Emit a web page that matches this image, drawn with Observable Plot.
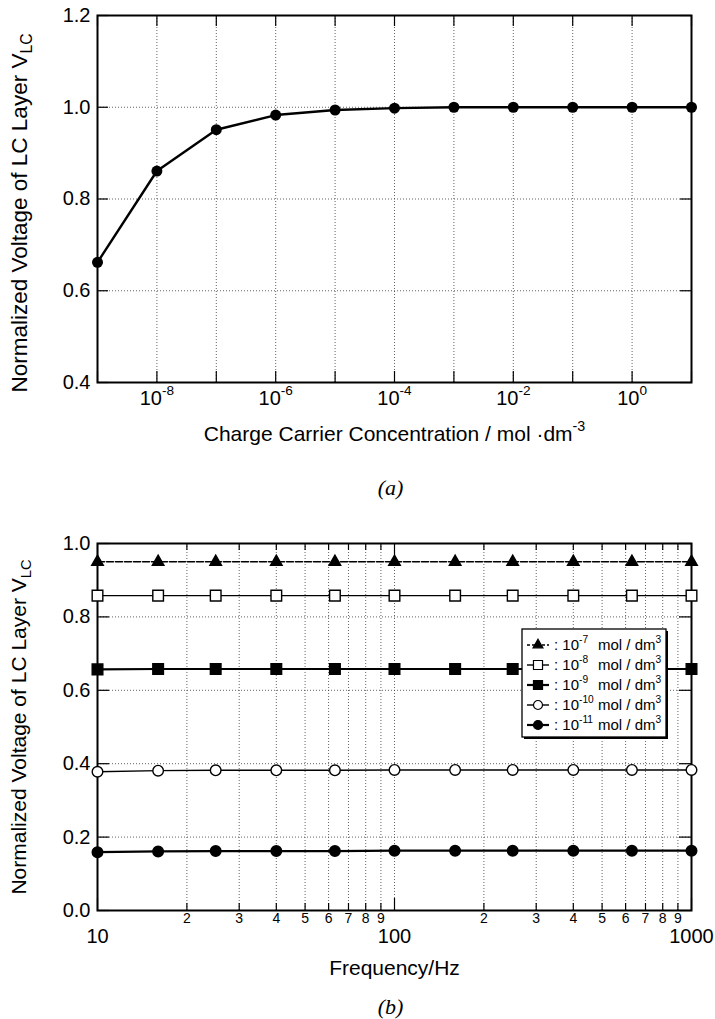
<!DOCTYPE html>
<html><head><meta charset="utf-8">
<script src="https://cdn.jsdelivr.net/npm/d3@7"></script>
<script src="https://cdn.jsdelivr.net/npm/@observablehq/plot@0.6"></script>
<style>
body{margin:0;background:#fff;}
#wrap{width:715px;height:1019px;position:relative;overflow:hidden;background:#fff;}
.cap{font-family:"Liberation Serif","Times New Roman",serif;font-style:italic;font-size:22px;height:25px;line-height:25px;text-align:center;padding-left:66px;width:715px;box-sizing:border-box;color:#000;}
svg{display:block}
</style></head><body>
<div id="wrap"><div id="a"></div><div class="cap">(a)</div><div id="b"></div><div class="cap">(b)</div></div>
<script>
// ---------- data: chart (a) ----------
const concentration = [1e-9, 1e-8, 1e-7, 1e-6, 1e-5, 1e-4, 1e-3, 1e-2, 1e-1, 1e0, 1e1];
const voltageA = [0.662, 0.861, 0.951, 0.983, 0.994, 0.998, 1.0, 1.0, 1.0, 1.0, 1.0];
const decadeTicksA = [1e-9, 1e-8, 1e-7, 1e-6, 1e-5, 1e-4, 1e-3, 1e-2, 1e-1, 1e0, 1e1];
const labelTicksA = [1e-8, 1e-6, 1e-4, 1e-2, 1e0];
const yTicksA = [0.4, 0.6, 0.8, 1.0, 1.2];

// ---------- data: chart (b) ----------
const frequency = [10, 16, 25, 40, 63, 100, 160, 250, 400, 630, 1000];
const seriesNames = ["10^{-7}", "10^{-8}", "10^{-9}", "10^{-10}", "10^{-11}"];
const v1e7 = [0.95, 0.95, 0.95, 0.95, 0.95, 0.95, 0.95, 0.95, 0.95, 0.95, 0.95];
const v1e8 = [0.858, 0.858, 0.858, 0.858, 0.858, 0.858, 0.858, 0.858, 0.858, 0.858, 0.858];
const v1e9 = [0.657, 0.658, 0.658, 0.658, 0.658, 0.658, 0.658, 0.658, 0.658, 0.658, 0.658];
const v1e10 = [0.378, 0.381, 0.382, 0.382, 0.382, 0.383, 0.383, 0.383, 0.383, 0.383, 0.383];
const v1e11 = [0.159, 0.161, 0.162, 0.162, 0.162, 0.163, 0.163, 0.163, 0.163, 0.163, 0.163];
const seriesValues = [v1e7, v1e8, v1e9, v1e10, v1e11];
const majorTicksB = [10, 100, 1000];
const minorTicksB = [20, 30, 40, 50, 60, 70, 80, 90, 200, 300, 400, 500, 600, 700, 800, 900];
const minorLabelsB = ["2", "3", "4", "5", "6", "7", "8", "9", "2", "3", "4", "5", "6", "7", "8", "9"];
const yTicksB = [0, 0.2, 0.4, 0.6, 0.8, 1.0];

const yTitle = "Normalized Voltage of LC Layer V_{LC}";
const xTitleA = "Charge Carrier Concentration / mol ·dm^{-3}";
const xTitleB = "Frequency/Hz";
const unitText = "mol / dm^{3}";

// ---------- styles ----------
const seriesStyle = [
  {symbol: "triangle", fill: "black", r: 4.3, width: 1.5, dash: "7,2"},
  {symbol: "square", fill: "white", r: 6.0, width: 1.4, dash: null},
  {symbol: "square", fill: "black", r: 6.0, width: 2.2, dash: null},
  {symbol: "circle", fill: "white", r: 5.3, width: 1.4, dash: null},
  {symbol: "circle", fill: "black", r: 5.3, width: 2.2, dash: null}
];
const W = 715, ML = 97, MR = 24, FW = W - ML - MR;
const font = '"Liberation Sans", Arial, Helvetica, sans-serif';
const gridStyle = {stroke: "#333", strokeOpacity: 0.85, strokeWidth: 0.9, strokeDasharray: "1,2"};
const tickStyle = {stroke: "black", strokeWidth: 1.2};

// rich text: ^{..} superscript, _{..} subscript
function richText(svg) {
  d3.select(svg).selectAll("text").each(function() {
    const el = this;
    const t = el.textContent;
    if (!/[\^_]\{/.test(t) || el.querySelector("tspan")) return;
    const base = parseFloat(getComputedStyle(el).fontSize) || 16;
    const parts = t.split(/(\^\{[^}]*\}|_\{[^}]*\})/).filter(s => s.length);
    el.textContent = "";
    let cur = 0;
    for (const p of parts) {
      let txt = p, shift = 0, size = base;
      if (p.startsWith("^{")) { txt = p.slice(2, -1); shift = -0.5 * base; size = 0.68 * base; }
      else if (p.startsWith("_{")) { txt = p.slice(2, -1); shift = 0.22 * base; size = 0.7 * base; }
      const ts = document.createElementNS("http://www.w3.org/2000/svg", "tspan");
      ts.setAttribute("font-size", size + "px");
      if (shift - cur !== 0) ts.setAttribute("dy", (shift - cur) + "px");
      cur = shift;
      ts.textContent = txt;
      el.appendChild(ts);
    }
  });
}

// ---------- chart (a) ----------
const HA = 475, MTA = 15, MBA = 93, FHA = HA - MTA - MBA;
const dataA = concentration.map((c, i) => ({c, v: voltageA[i]}));
const chartA = Plot.plot({
  width: W, height: HA, marginLeft: ML, marginRight: MR, marginTop: MTA, marginBottom: MBA,
  style: {fontFamily: font, fontSize: "20px", color: "black", background: "white", overflow: "visible"},
  x: {type: "log", domain: [1e-9, 1e1], label: null, axis: null},
  y: {domain: [0.4, 1.2], label: null},
  marks: [
    Plot.gridX(decadeTicksA, gridStyle),
    Plot.gridY(yTicksA, gridStyle),
    Plot.ruleX(decadeTicksA, {...tickStyle, insetTop: FHA - 11}),
    Plot.ruleX(decadeTicksA, {...tickStyle, insetBottom: FHA - 11}),
    Plot.ruleY(yTicksA, {...tickStyle, insetRight: FW - 11}),
    Plot.ruleY(yTicksA, {...tickStyle, insetLeft: FW - 11}),
    Plot.frame({stroke: "black", strokeWidth: 2}),
    Plot.text(labelTicksA, {x: d => d, text: d => `10^{${Math.round(Math.log10(d))}}`,
      frameAnchor: "bottom", lineAnchor: "top", textAnchor: "middle", dy: 8, fontSize: 20}),
    Plot.axisY(yTicksA, {anchor: "left", tickSize: 0, tickPadding: 7, fontSize: 20, label: null,
      tickFormat: d3.format(".1f")}),
    Plot.text([xTitleA], {text: d => d, frameAnchor: "bottom", textAnchor: "middle", dy: 52, fontSize: 21, lineAnchor: "middle"}),
    Plot.text([yTitle], {text: d => d, frameAnchor: "left", textAnchor: "middle", dx: -78, dy: 14, rotate: -90, fontSize: 22.5}),
    Plot.line(dataA, {x: "c", y: "v", stroke: "black", strokeWidth: 2.4}),
    Plot.dot(dataA, {x: "c", y: "v", r: 5.5, fill: "black"})
  ]
});
document.getElementById("a").appendChild(chartA);
richText(chartA);

// ---------- chart (b) ----------
const HB = 494, MTB = 43, MBB = 84, FHB = HB - MTB - MBB;
const seriesMarks = [];
seriesNames.forEach((name, k) => {
  const st = seriesStyle[k];
  const rows = frequency.map((f, i) => ({f, v: seriesValues[k][i]}));
  seriesMarks.push(Plot.line(rows, {x: "f", y: "v", stroke: "black", strokeWidth: st.width, strokeDasharray: st.dash}));
});
seriesNames.forEach((name, k) => {
  const st = seriesStyle[k];
  const rows = frequency.map((f, i) => ({f, v: seriesValues[k][i]}));
  seriesMarks.push(Plot.dot(rows, {x: "f", y: "v", symbol: st.symbol, r: st.r, fill: st.fill, stroke: "black", strokeWidth: 1.4}));
});
const chartB = Plot.plot({
  width: W, height: HB, marginLeft: ML, marginRight: MR, marginTop: MTB, marginBottom: MBB,
  style: {fontFamily: font, fontSize: "20px", color: "black", background: "white", overflow: "visible"},
  x: {type: "log", domain: [10, 1000], label: null, axis: null},
  y: {domain: [0, 1], label: null},
  marks: [
    Plot.gridX(majorTicksB.concat(minorTicksB), gridStyle),
    Plot.gridY(yTicksB, gridStyle),
    Plot.ruleX(majorTicksB, {...tickStyle, insetTop: FHB - 12}),
    Plot.ruleX(majorTicksB, {...tickStyle, insetBottom: FHB - 12}),
    Plot.ruleX(minorTicksB, {...tickStyle, insetTop: FHB - 7}),
    Plot.ruleX(minorTicksB, {...tickStyle, insetBottom: FHB - 7}),
    Plot.ruleY(yTicksB, {...tickStyle, insetRight: FW - 12}),
    Plot.ruleY(yTicksB, {...tickStyle, insetLeft: FW - 12}),
    Plot.frame({stroke: "black", strokeWidth: 2}),
    Plot.text(minorTicksB, {x: d => d, text: (d, i) => minorLabelsB[i],
      frameAnchor: "bottom", lineAnchor: "top", textAnchor: "middle", dy: 3, fontSize: 14}),
    Plot.text(majorTicksB, {x: d => d, text: d => String(d),
      frameAnchor: "bottom", lineAnchor: "top", textAnchor: "middle", dy: 18, fontSize: 20}),
    Plot.axisY(yTicksB, {anchor: "left", tickSize: 0, tickPadding: 7, fontSize: 20, label: null,
      tickFormat: d3.format(".1f")}),
    Plot.text([xTitleB], {text: d => d, frameAnchor: "bottom", textAnchor: "middle", dy: 58, fontSize: 21, lineAnchor: "middle"}),
    Plot.text([yTitle], {text: d => d, frameAnchor: "left", textAnchor: "middle", dx: -78, dy: 0, rotate: -90, fontSize: 21}),
    ...seriesMarks
  ]
});
document.getElementById("b").appendChild(chartB);

// legend inside chart (b), top-right region
(function legend() {
  const svg = d3.select(chartB);
  const bx = ML + FW - 169, by = MTB + 86, bw = 144, bh = 108;
  const g = svg.append("g").attr("font-family", font).attr("font-size", 15)
    .attr("fill", "black").attr("text-anchor", "start");
  g.append("rect").attr("x", bx + 2).attr("y", by + 2).attr("width", bw).attr("height", bh).attr("fill", "black");
  g.append("rect").attr("x", bx).attr("y", by).attr("width", bw).attr("height", bh)
    .attr("fill", "white").attr("stroke", "black").attr("stroke-width", 1.3);
  const symMap = {triangle: d3.symbolTriangle, square: d3.symbolSquare, circle: d3.symbolCircle};
  seriesNames.forEach((name, k) => {
    const st = seriesStyle[k];
    const cy = by + 16 + k * 20, cx = bx + 16;
    g.append("line").attr("x1", cx - 11).attr("x2", cx + 11).attr("y1", cy).attr("y2", cy)
      .attr("stroke", "black").attr("stroke-width", st.width)
      .attr("stroke-dasharray", st.dash ? "3,2" : null);
    const rr = st.r * 0.85;
    g.append("path").attr("transform", `translate(${cx},${cy})`)
      .attr("d", d3.symbol(symMap[st.symbol], rr * rr * Math.PI)())
      .attr("fill", st.fill).attr("stroke", "black").attr("stroke-width", 1.2);
    g.append("text").attr("x", bx + 32).attr("y", cy).attr("dy", "0.35em").text(": " + name);
    g.append("text").attr("x", bx + 76).attr("y", cy).attr("dy", "0.35em").text(unitText);
  });
})();
richText(chartB);
</script>
</body></html>
